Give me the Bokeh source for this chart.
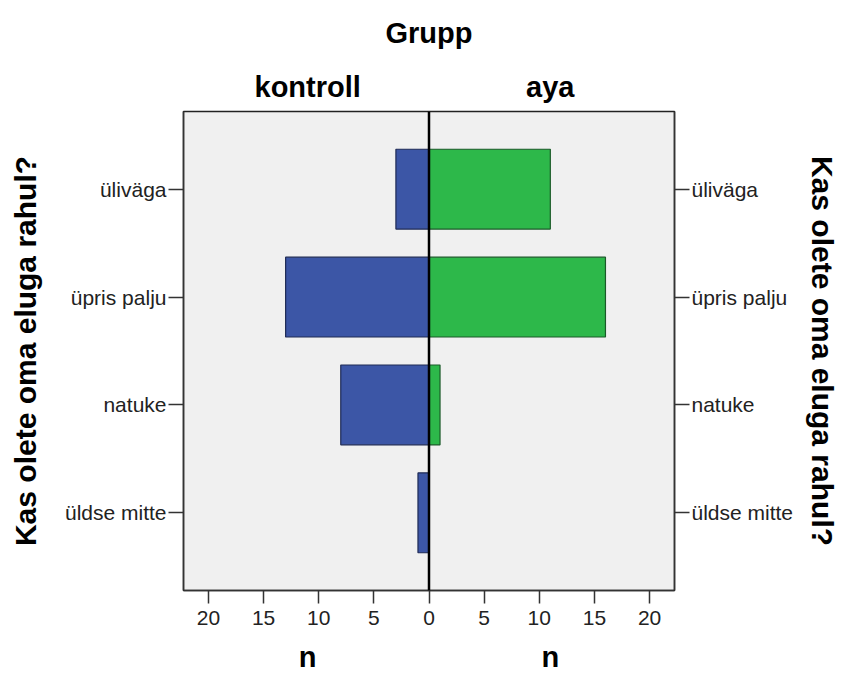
from bokeh.plotting import figure
from bokeh.models import Span, FixedTicker, LinearAxis, Range1d
from bokeh.embed import file_html
from bokeh.resources import INLINE

categories = ["üldse mitte", "natuke", "üpris palju", "üliväga"]
kontroll = [1, 8, 13, 3]
aya = [0, 1, 16, 11]
x_ticks = [-20, -15, -10, -5, 0, 5, 10, 15, 20]
group_names = ["kontroll", "aya"]
title_text = "Grupp"
y_title = "Kas olete oma eluga rahul?"
x_title = "n"

ypos = list(range(len(categories)))
FONT = "Liberation Sans"

p = figure(width=842, height=675, output_backend="svg", toolbar_location=None,
           x_range=Range1d(-22.26, 22.26), y_range=Range1d(-0.72, 3.72),
           min_border_left=183, min_border_right=167, min_border_top=111,
           min_border_bottom=85, y_axis_location=None)
p.background_fill_color = "#f0f0f0"
p.border_fill_color = "white"
p.outline_line_color = "#222222"
p.outline_line_width = 1.5
p.grid.visible = False

p.hbar(y=ypos, left=[-v for v in kontroll], right=0, height=0.74,
       fill_color="#3c56a6", line_color="#1e2a55", line_width=1.2)
p.hbar(y=ypos, left=0, right=aya, height=0.74,
       fill_color="#2db84a", line_color="#1a5a28", line_width=1.2)
p.add_layout(Span(location=0, dimension="height", line_color="black", line_width=2.5))


def style_ticks(ax, tick_out, standoff, size="21px"):
    ax.major_tick_out = tick_out
    ax.major_tick_in = 0
    ax.minor_tick_line_color = None
    ax.major_tick_line_width = 1.5
    ax.major_tick_line_color = "#333333"
    ax.axis_line_color = "#333333"
    ax.axis_line_width = 1.5
    ax.major_label_text_font = FONT
    ax.major_label_text_font_size = size
    ax.major_label_text_color = "#222222"
    ax.major_label_standoff = standoff


def style_text_axis(ax, standoff):
    ax.major_tick_out = 0
    ax.major_tick_in = 0
    ax.minor_tick_line_color = None
    ax.major_tick_line_color = None
    ax.axis_line_color = None
    ax.major_label_text_font = FONT
    ax.major_label_text_font_style = "bold"
    ax.major_label_text_font_size = "29px"
    ax.major_label_text_color = "black"
    ax.major_label_standoff = standoff


# main x axis
xa = p.xaxis[0]
xa.ticker = FixedTicker(ticks=x_ticks)
xa.major_label_overrides = {t: str(abs(t)) for t in x_ticks}
style_ticks(xa, 13, 7)

# "n" labels below each half
na = LinearAxis(ticker=FixedTicker(ticks=[-11, 11]),
                major_label_overrides={-11: x_title, 11: x_title})
style_text_axis(na, 13)
p.add_layout(na, "below")

# group names and title above
ga = LinearAxis(ticker=FixedTicker(ticks=[-11, 11]),
                major_label_overrides={-11: group_names[0], 11: group_names[1]},
                axis_label=title_text)
style_text_axis(ga, 9)
ga.axis_label_text_font = FONT
ga.axis_label_text_font_style = "bold"
ga.axis_label_text_font_size = "29px"
ga.axis_label_text_color = "black"
ga.axis_label_standoff = 19
p.add_layout(ga, "above")

labels_map = {i: c for i, c in enumerate(categories)}
for side, so in [("left", 20), ("right", 10)]:
    ax = LinearAxis(ticker=FixedTicker(ticks=ypos), major_label_overrides=labels_map,
                    axis_label=y_title)
    style_ticks(ax, 15, 2)
    ax.axis_label_text_font = FONT
    ax.axis_label_text_font_style = "bold"
    ax.axis_label_text_font_size = "30px"
    ax.axis_label_text_color = "black"
    ax.axis_label_standoff = so
    p.add_layout(ax, side)

open("out.html", "w").write(file_html(p, INLINE))
